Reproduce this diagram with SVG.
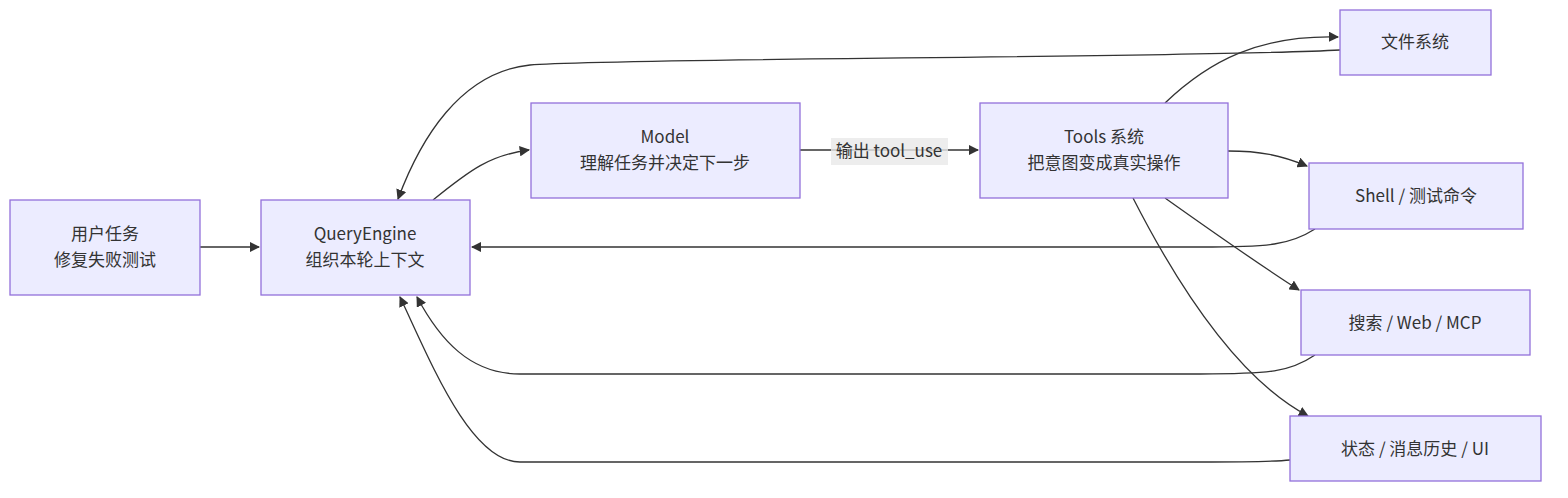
<svg xmlns="http://www.w3.org/2000/svg" width="1568" height="498" viewBox="0 0 1568 498">
<style>
.n rect{fill:#ECECFF;stroke:#9370DB;stroke-width:1.3}
text{font-family:"Noto Sans CJK SC","Noto Sans",sans-serif;font-size:17px;fill:#333;text-anchor:middle}
.e path{fill:none;stroke:#333;stroke-width:1.3;marker-end:url(#a)}
</style>
<defs><marker id="a" viewBox="0 0 10 10" refX="9" refY="5" markerWidth="8" markerHeight="8" orient="auto"><path d="M0,0L10,5L0,10z" fill="#333"/></marker></defs>
<rect width="1568" height="498" fill="#fff"/>
<g class="e">
<path d="M200,247H259"/>
<path d="M433,200C470,170 490,155 529,150"/>
<path d="M800,150H978"/>
<path d="M1165,103C1210,60 1260,35 1338,37"/>
<path d="M1228,151C1260,151 1280,155 1307,166"/>
<path d="M1165,198C1210,230 1260,265 1299,290"/>
<path d="M1133,198C1180,290 1240,380 1308,416"/>
<path d="M1340,50C1200,58 600,58 530,65C460,72 420,140 398,199"/>
<path d="M1315,229C1290,245 1270,247 1200,247H472"/>
<path d="M1315,355C1290,372 1270,374 1200,374H520C470,374 440,340 417,297"/>
<path d="M1290,460C1270,462 1250,462 1200,462H520C470,462 430,360 400,297"/>
</g>
<rect x="831" y="138" width="117" height="27" fill="#e8e8e8" opacity="0.8"/>
<text x="889" y="157">输出 tool_use</text>
<g id="user" class="n"><rect x="10" y="200" width="190" height="95"/><text x="105" y="240">用户任务</text><text x="105" y="266">修复失败测试</text></g>
<g id="qe" class="n"><rect x="261" y="200" width="209" height="95"/><text x="365" y="240">QueryEngine</text><text x="365" y="266">组织本轮上下文</text></g>
<g id="model" class="n"><rect x="531" y="103" width="269" height="95"/><text x="665" y="143">Model</text><text x="665" y="169">理解任务并决定下一步</text></g>
<g id="tools" class="n"><rect x="980" y="103" width="248" height="95"/><text x="1104" y="143">Tools 系统</text><text x="1104" y="169">把意图变成真实操作</text></g>
<g id="fs" class="n"><rect x="1340" y="10" width="151" height="65"/><text x="1415" y="48">文件系统</text></g>
<g id="shell" class="n"><rect x="1309" y="163" width="214" height="66"/><text x="1416" y="202">Shell / 测试命令</text></g>
<g id="search" class="n"><rect x="1301" y="290" width="229" height="65"/><text x="1415" y="329">搜索 / Web / MCP</text></g>
<g id="state" class="n"><rect x="1290" y="416" width="251" height="65"/><text x="1415" y="455">状态 / 消息历史 / UI</text></g>
</svg>
